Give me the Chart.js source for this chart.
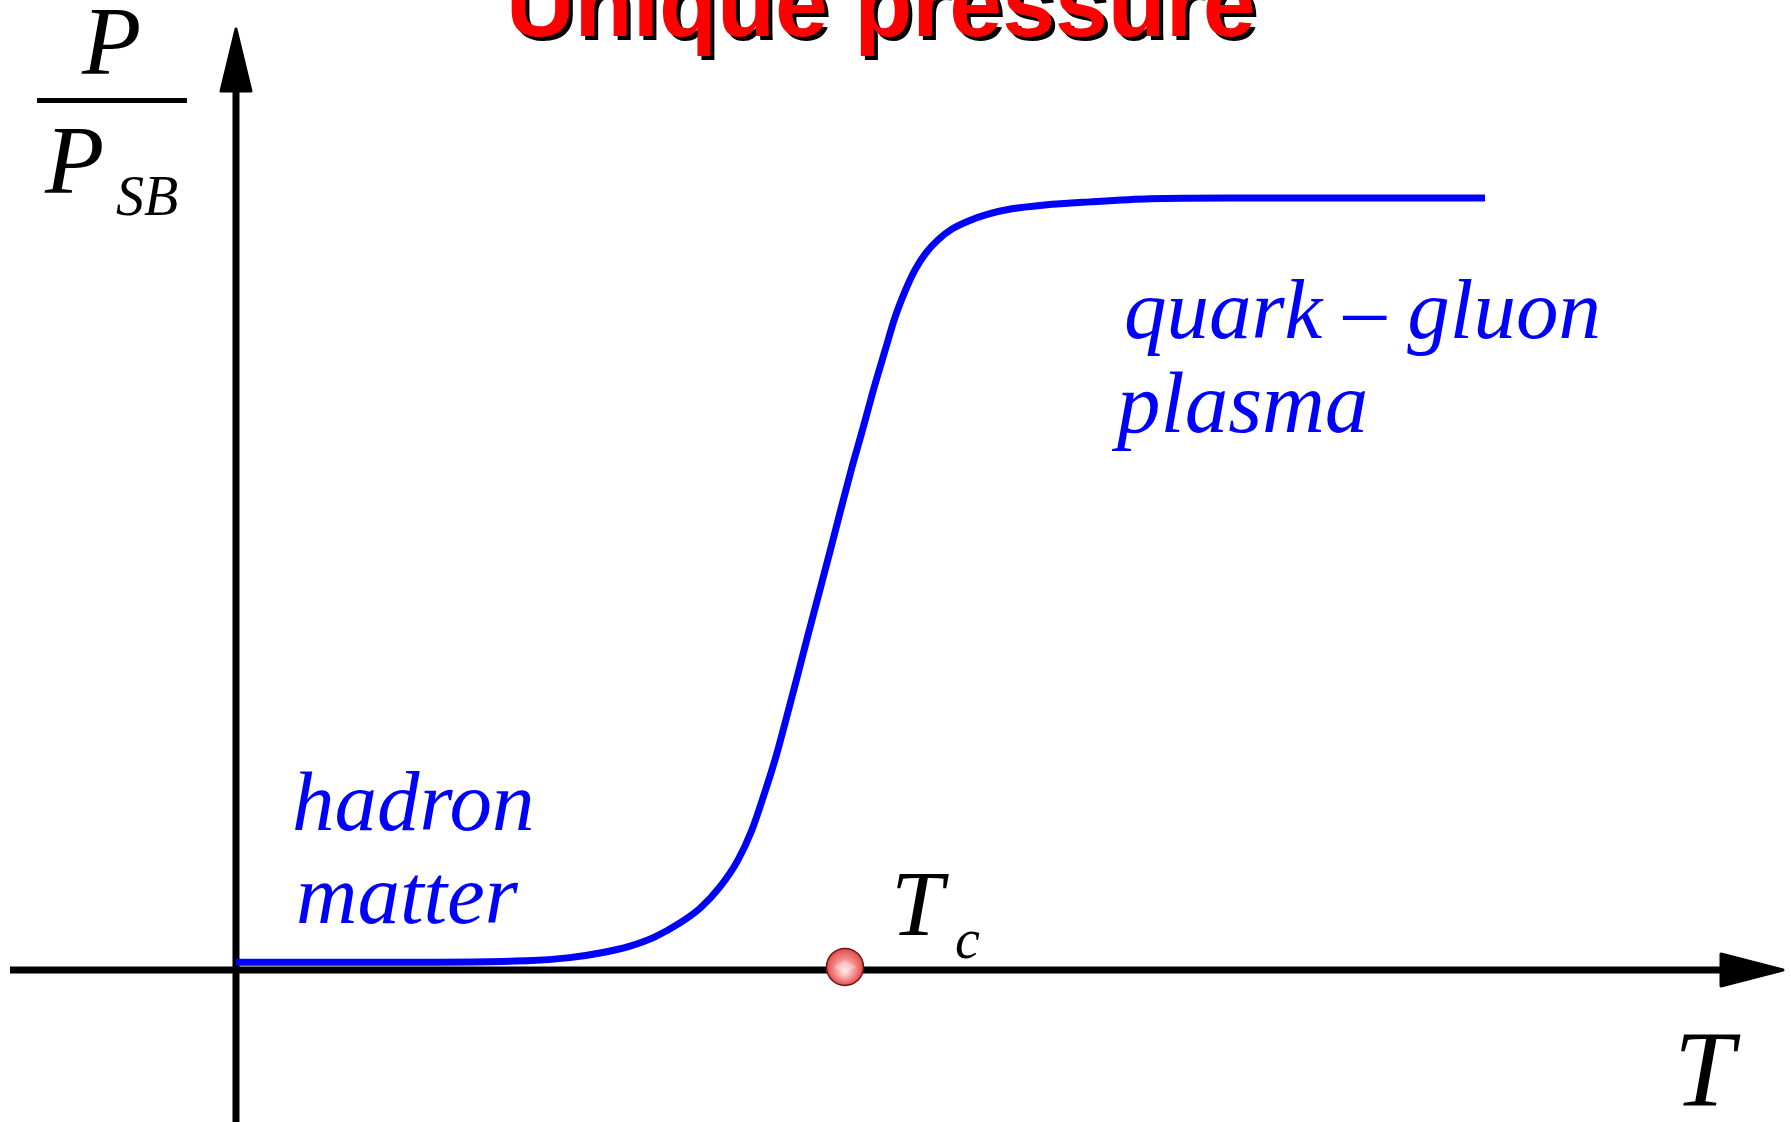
<!DOCTYPE html>
<html lang="en">
<head>
<meta charset="UTF-8" />
<title>Unique pressure</title>
<style>
  html, body {
    margin: 0;
    padding: 0;
    background: #ffffff;
    overflow: hidden;
  }
  canvas {
    display: block;
  }
</style>
</head>
<body>
  <canvas id="pressureChart" width="1791" height="1122"></canvas>

  <script src="https://cdn.jsdelivr.net/npm/chart.js"></script>
  <script>
  // temperature in units of Tc, pressure relative to the Stefan-Boltzmann limit
  const temperature = [0, 0.269, 0.478, 0.548, 0.598, 0.647, 0.688, 0.729, 0.762, 0.795,
                       0.824, 0.847, 0.867, 0.885, 0.903, 0.921, 0.939, 0.957, 0.975,
                       0.993, 1.011, 1.030, 1.048, 1.066, 1.082, 1.099, 1.115, 1.133,
                       1.153, 1.176, 1.202, 1.235, 1.274, 1.328, 1.402, 1.501, 1.632, 2.051];
  const pressureRatio = [0.01, 0.01, 0.012, 0.016, 0.022, 0.031, 0.043, 0.061, 0.080, 0.108,
                         0.142, 0.181, 0.227, 0.272, 0.324, 0.378, 0.433, 0.487, 0.541,
                         0.596, 0.650, 0.703, 0.755, 0.803, 0.845, 0.880, 0.907, 0.929,
                         0.946, 0.960, 0.970, 0.979, 0.986, 0.991, 0.995, 0.999, 1.0, 1.0];

  // critical temperature marker
  const criticalT = [1.0];
  const criticalP = [0.004];

  const titleText = 'Unique pressure';
  const hadronLines = ['hadron', 'matter'];
  const qgpLines = ['quark \u2013 gluon', 'plasma'];

  const curvePoints = temperature.map((t, i) => ({ x: t, y: pressureRatio[i] }));
  const tcPoints = criticalT.map((t, i) => ({ x: t, y: criticalP[i] }));

  const SERIF = '"Liberation Serif", "Times New Roman", serif';
  const SANS = '"Liberation Sans", Arial, sans-serif';

  function arrowHead(ctx, tipX, tipY, dirX, dirY, len, half) {
    const bx = tipX - dirX * len, by = tipY - dirY * len;
    const px = -dirY, py = dirX;
    ctx.beginPath();
    ctx.moveTo(tipX, tipY);
    ctx.lineTo(bx + px * half, by + py * half);
    ctx.lineTo(bx - px * half, by - py * half);
    ctx.closePath();
    ctx.fill();
    ctx.stroke();
  }

  // axes with arrows, drawn at the zero of each scale
  const axesPlugin = {
    id: 'arrowAxes',
    beforeDatasetsDraw(chart) {
      const ctx = chart.ctx;
      const x0 = chart.scales.x.getPixelForValue(0);
      const y0 = chart.scales.y.getPixelForValue(0);
      ctx.save();
      ctx.strokeStyle = '#000';
      ctx.fillStyle = '#000';
      ctx.lineWidth = 7;
      ctx.lineCap = 'butt';

      // horizontal T axis
      ctx.beginPath();
      ctx.moveTo(10, y0);
      ctx.lineTo(1740, y0);
      ctx.stroke();

      // vertical axis
      ctx.beginPath();
      ctx.moveTo(x0, chart.height);
      ctx.lineTo(x0, 70);
      ctx.stroke();

      ctx.lineWidth = 3;
      ctx.lineJoin = 'round';
      arrowHead(ctx, 1783, y0, 1, 0, 62, 16);
      arrowHead(ctx, x0, 29, 0, -1, 62, 15);
      ctx.restore();
    }
  };

  // glossy red ball on top of the Tc point
  const ballPlugin = {
    id: 'tcBall',
    afterDatasetsDraw(chart) {
      const meta = chart.getDatasetMeta(1);
      const ctx = chart.ctx;
      meta.data.forEach(pt => {
        const r = 18.5;
        ctx.save();
        const g = ctx.createRadialGradient(pt.x, pt.y + 5, 2, pt.x, pt.y, r);
        g.addColorStop(0, '#fcd6d6');
        g.addColorStop(0.5, '#f49090');
        g.addColorStop(1, '#e24a4a');
        ctx.beginPath();
        ctx.arc(pt.x, pt.y, r, 0, Math.PI * 2);
        ctx.fillStyle = g;
        ctx.fill();
        ctx.lineWidth = 1.5;
        ctx.strokeStyle = '#6e1414';
        ctx.stroke();
        // soft highlight
        ctx.beginPath();
        ctx.moveTo(pt.x - 11, pt.y);
        ctx.lineTo(pt.x, pt.y - 7);
        ctx.lineTo(pt.x + 11, pt.y);
        ctx.lineTo(pt.x, pt.y + 6);
        ctx.closePath();
        ctx.fillStyle = 'rgba(255,255,255,0.3)';
        ctx.fill();
        ctx.restore();
      });
    }
  };

  // title, axis labels and region names
  const labelsPlugin = {
    id: 'textLabels',
    afterDraw(chart) {
      const ctx = chart.ctx;
      ctx.save();
      ctx.textBaseline = 'alphabetic';
      ctx.textAlign = 'left';

      // title with hard drop shadow
      ctx.font = 'bold 95px ' + SANS;
      ctx.fillStyle = '#000';
      ctx.fillText(titleText, 510, 40);
      ctx.fillStyle = '#ff0000';
      ctx.fillText(titleText, 506, 36);

      // P / P_SB
      ctx.fillStyle = '#000';
      ctx.font = 'italic 97px ' + SERIF;
      ctx.fillText('P', 82, 74);
      ctx.fillText('P', 45, 193);
      ctx.font = 'italic 56px ' + SERIF;
      ctx.fillText('SB', 116, 215);
      ctx.fillRect(37, 98, 150, 5);

      // Tc
      ctx.font = 'italic 94px ' + SERIF;
      ctx.fillText('T', 891, 935);
      ctx.font = 'italic 56px ' + SERIF;
      ctx.fillText('c', 955, 958);

      // T axis label
      ctx.font = 'italic 108px ' + SERIF;
      ctx.fillText('T', 1674, 1105);

      // phase names
      ctx.fillStyle = '#0000ff';
      ctx.font = 'italic 85px ' + SERIF;
      ctx.fillText(hadronLines[0], 292, 830);
      ctx.fillText(hadronLines[1], 296, 923);
      ctx.fillText(qgpLines[0], 1124, 338);
      ctx.font = 'italic 87px ' + SERIF;
      ctx.fillText(qgpLines[1], 1117, 432);
      ctx.restore();
    }
  };

  new Chart(document.getElementById('pressureChart').getContext('2d'), {
    type: 'scatter',
    data: {
      datasets: [
        {
          label: 'P/P_SB',
          data: curvePoints,
          showLine: true,
          borderColor: '#0000ff',
          borderWidth: 7,
          pointRadius: 0,
          cubicInterpolationMode: 'monotone',
          fill: false,
          clip: false
        },
        {
          label: 'Tc',
          data: tcPoints,
          showLine: false,
          pointRadius: 0,
          clip: false
        }
      ]
    },
    options: {
      responsive: false,
      animation: false,
      layout: { padding: 0 },
      scales: {
        x: { type: 'linear', display: false, min: -0.3875, max: 2.5534 },
        y: { type: 'linear', display: false, min: -0.1969, max: 1.2565 }
      },
      plugins: {
        legend: { display: false },
        tooltip: { enabled: false }
      }
    },
    plugins: [axesPlugin, ballPlugin, labelsPlugin]
  });
  </script>
</body>
</html>
